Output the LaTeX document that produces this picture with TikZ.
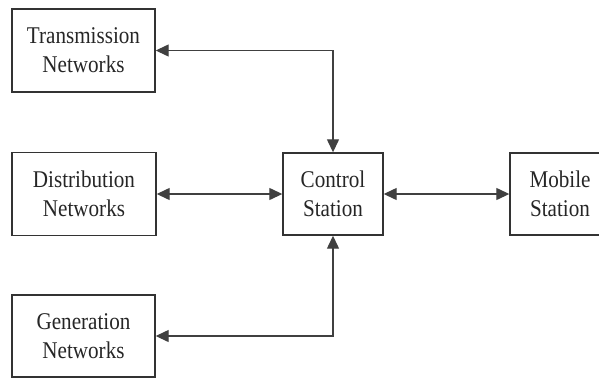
\documentclass[tikz,border=0pt]{standalone}
\usepackage{fontspec}
\setmainfont{Liberation Serif}[FakeStretch=0.88]
\usetikzlibrary{arrows.meta}
\begin{document}
\begin{tikzpicture}[x=1pt,y=-1pt,
  blockbox/.style={draw=black!80, line width=1.4pt, inner sep=0pt, align=center,
    font=\fontsize{24}{29}\selectfont, text=black!85},
  conn/.style={draw=black!75, line width=1.3pt, {Triangle[length=13pt,width=12pt]}-{Triangle[length=13pt,width=12pt]}}]
\useasboundingbox (0,0) rectangle (599,378);
\clip (0,0) rectangle (599,378);
\node[blockbox, minimum width=143pt, minimum height=83pt] (T) at (83.5,50.5) {Transmission\\Networks};
\node[blockbox, minimum width=144pt, minimum height=83pt] (D) at (84,194) {Distribution\\Networks};
\node[blockbox, minimum width=100pt, minimum height=82pt] (C) at (333,194) {Control\\Station};
\node[blockbox, minimum width=100pt, minimum height=82pt] (M) at (560,194) {Mobile\\Station};
\node[blockbox, minimum width=143pt, minimum height=82pt] (G) at (83.5,336) {Generation\\Networks};
\draw[conn] (T) -| (C);
\draw[conn] (G) -| (C);
\draw[conn] (D) -- (C);
\draw[conn] (C) -- (M);
\end{tikzpicture}
\end{document}
